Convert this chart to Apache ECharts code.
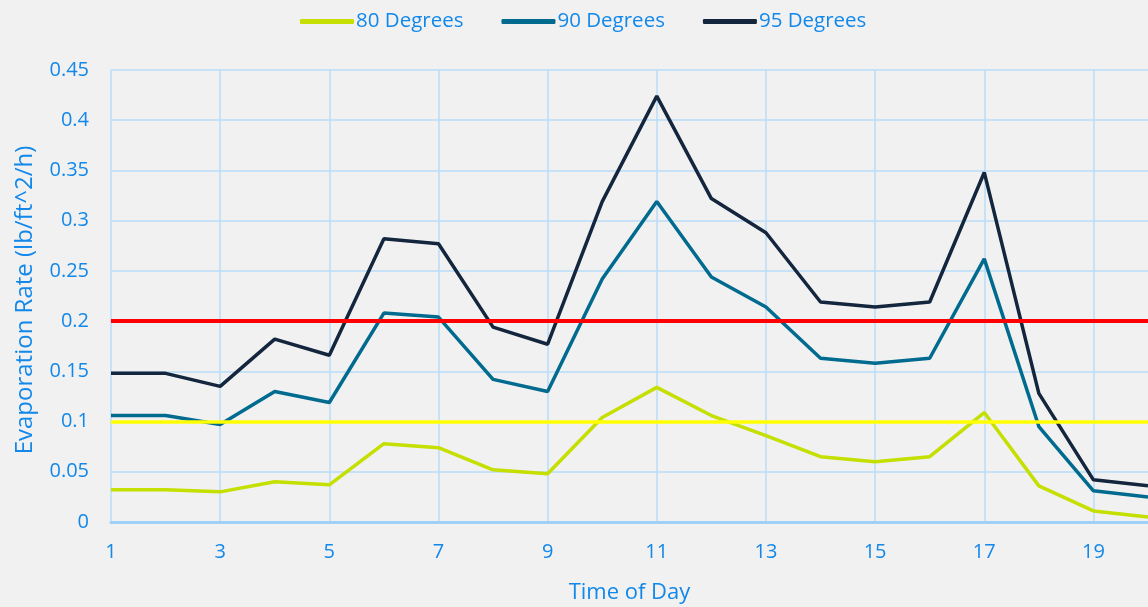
<!DOCTYPE html>
<html>
<head>
<meta charset="utf-8">
<script src="https://cdn.jsdelivr.net/npm/echarts@6/dist/echarts.min.js"></script>
<style>
  html, body { margin: 0; padding: 0; background: #f1f1f1; }
  #chart { width: 1148px; height: 607px; }
</style>
</head>
<body>
<div id="chart"></div>
<script>
const hours = ['1','2','3','4','5','6','7','8','9','10','11','12','13','14','15','16','17','18','19','20']
const deg80 = [0.032, 0.032, 0.030, 0.040, 0.037, 0.078, 0.074, 0.052, 0.048, 0.104, 0.134, 0.106, 0.086, 0.065, 0.060, 0.065, 0.109, 0.036, 0.011, 0.005]
const deg90 = [0.106, 0.106, 0.097, 0.130, 0.119, 0.208, 0.204, 0.142, 0.130, 0.242, 0.319, 0.244, 0.214, 0.163, 0.158, 0.163, 0.262, 0.095, 0.031, 0.025]
const deg95 = [0.148, 0.148, 0.135, 0.182, 0.166, 0.282, 0.277, 0.194, 0.177, 0.319, 0.424, 0.322, 0.288, 0.219, 0.214, 0.219, 0.348, 0.128, 0.042, 0.036]
const limitHigh = 0.2
const limitLow = 0.1

const textBlue = '#1288ea'
const gridBlue = '#b9ddf8'
const font = 'Open Sans'

var myChart = echarts.init(document.getElementById('chart'))

const lineSeries = (name, data, color) => ({
  name: name,
  type: 'line',
  data: data,
  symbol: 'none',
  lineStyle: { width: 3.5, color: color },
  itemStyle: { color: color },
  z: 3
})

const s95 = lineSeries('95 Degrees', deg95, '#13263d')
// limit lines (0.2 red, 0.1 yellow)
s95.markLine = {
  silent: true,
  symbol: 'none',
  label: { show: false },
  z: 5,
  data: [
    { yAxis: limitHigh, lineStyle: { color: '#ff0000', width: 4, type: 'solid' } },
    { yAxis: limitLow, lineStyle: { color: '#ffff00', width: 3.5, type: 'solid' } }
  ]
}

myChart.setOption({
  backgroundColor: '#f1f1f1',
  animation: false,
  textStyle: { fontFamily: font },
  legend: {
    top: 6,
    left: 295,
    itemWidth: 54,
    itemHeight: 5,
    itemGap: 38,
    icon: 'roundRect',
    textStyle: { color: textBlue, fontSize: 20.5, fontFamily: font, padding: [0, 0, 0, -3] },
    data: ['80 Degrees', '90 Degrees', '95 Degrees']
  },
  grid: { left: 111, right: 0, top: 70, bottom: 85, outerBoundsMode: 'none' },
  xAxis: {
    type: 'category',
    data: hours,
    boundaryGap: false,
    name: 'Time of Day',
    nameLocation: 'middle',
    nameGap: 60,
    nameTextStyle: { color: textBlue, fontSize: 22, fontFamily: font },
    axisLine: { lineStyle: { color: '#9fd0f6', width: 3 } },
    axisTick: { show: false },
    axisLabel: { interval: 1, color: textBlue, fontSize: 20, margin: 20, fontFamily: font },
    splitLine: { show: true, interval: 1, lineStyle: { color: gridBlue, width: 1.5 } }
  },
  yAxis: {
    type: 'value',
    min: 0,
    max: 0.45,
    interval: 0.05,
    name: 'Evaporation Rate (lb/ft^2/h)',
    nameLocation: 'middle',
    nameGap: 74,
    nameTextStyle: { color: textBlue, fontSize: 24, fontFamily: font, padding: [0, 8, 0, 0] },
    axisLine: { show: false },
    axisTick: { show: false },
    axisLabel: { color: textBlue, fontSize: 20, margin: 22, fontFamily: font },
    splitLine: { show: true, lineStyle: { color: gridBlue, width: 1.5 } }
  },
  series: [
    lineSeries('80 Degrees', deg80, '#c4df00'),
    lineSeries('90 Degrees', deg90, '#006b8f'),
    s95
  ]
})
</script>
</body>
</html>
